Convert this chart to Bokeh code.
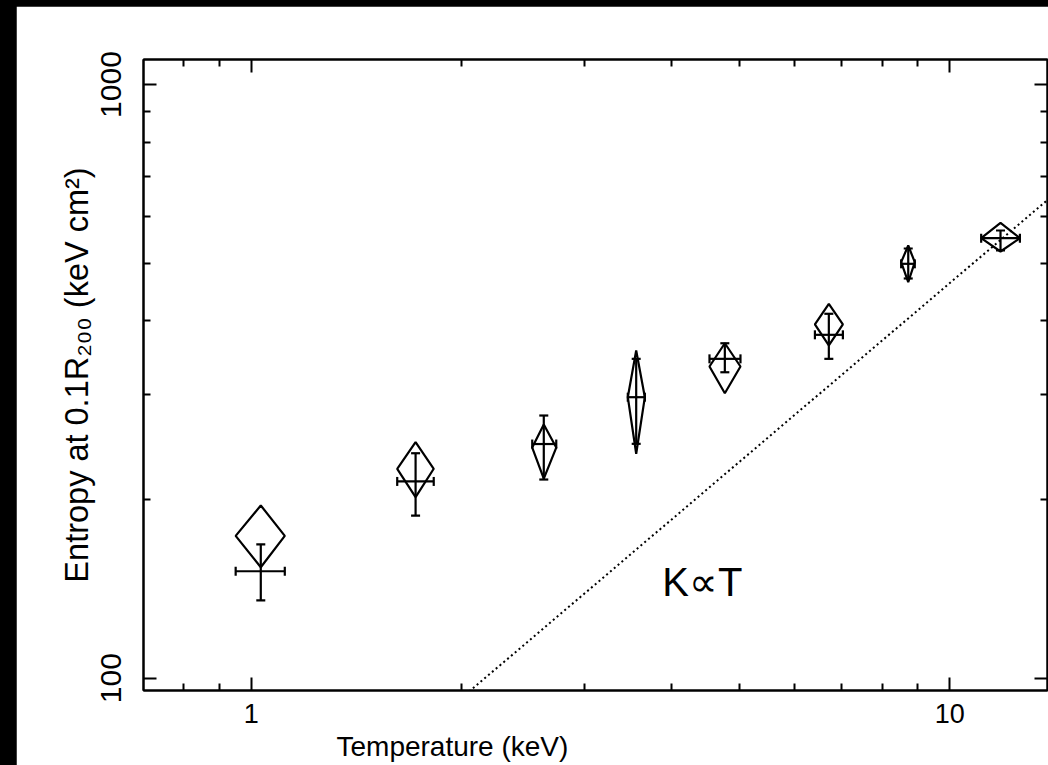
import math
from bokeh.plotting import figure
from bokeh.models import (FixedTicker, LogAxis, Label, Whisker, TeeHead, Title,
                          ColumnDataSource, NumeralTickFormatter)
from bokeh.embed import file_html
from bokeh.resources import INLINE

# ---- data ----
T    = [1.032, 1.719, 2.623, 3.557, 4.764, 6.712, 8.720, 11.82]
T_lo = [0.950, 1.618, 2.525, 3.460, 4.529, 6.411, 8.519, 11.09]
T_hi = [1.117, 1.825, 2.733, 3.660, 5.016, 7.030, 8.910, 12.60]
K    = [151.4, 214.5, 248.0, 297.4, 345.1, 378.8, 498.9, 551.0]
K_lo = [135.2, 187.9, 216.1, 248.2, 327.6, 345.1, 471.3, 525.4]
K_hi = [168.0, 239.3, 277.0, 345.1, 366.6, 411.0, 529.4, 567.7]
# diamonds (model values)
M    = [173.7, 225.3, 244.6, 297.4, 335.0, 394.3, 502.1, 551.0]
M_lo = [153.8, 201.8, 216.9, 238.8, 302.0, 363.5, 464.5, 523.3]
M_hi = [195.4, 249.8, 267.5, 356.4, 366.6, 427.2, 535.6, 584.8]
# K proportional to T reference line
line_T = [2.0, 15.0]
line_K = [92.6, 694.5]

x_major = [1, 10]
x_major_labels = ["1", "10"]
x_minor = [0.8, 0.9, 2, 3, 4, 5, 6, 7, 8, 9]
y_major = [100, 1000]
y_major_labels = ["100", "1000"]
y_minor = [200, 300, 400, 500, 600, 700, 800, 900]

x_title = "Temperature (keV)"
y_title = "Entropy at 0.1R\u2082\u2080\u2080 (keV cm\u00b2)"
note = "K\u221dT"

FONT = "Liberation Sans"

p = figure(width=1032, height=759, x_axis_type="log", y_axis_type="log",
           x_range=(0.7011, 13.80), y_range=(95.34, 1102),
           output_backend="svg", toolbar_location=None,
           min_border_left=127, min_border_right=1,
           min_border_top=53, min_border_bottom=75)
p.grid.visible = False
p.background_fill_color = "white"
p.border_fill_color = "white"
p.outline_line_color = "black"
p.outline_line_width = 2

def style_axis(ax):
    ax.axis_line_color = "black"
    ax.axis_line_width = 2
    ax.major_tick_line_color = "black"
    ax.major_tick_line_width = 2
    ax.minor_tick_line_color = "black"
    ax.minor_tick_line_width = 2
    ax.major_tick_in = 13
    ax.major_tick_out = 0
    ax.minor_tick_in = 7
    ax.minor_tick_out = 0
    ax.major_label_text_font = FONT
    ax.major_label_text_color = "black"

xt = FixedTicker(ticks=x_major, minor_ticks=x_minor)
yt = FixedTicker(ticks=y_major, minor_ticks=y_minor)

xa = p.xaxis[0]
xa.ticker = xt
xa.formatter = NumeralTickFormatter(format="0")
xa.major_label_overrides = {v: s for v, s in zip(x_major, x_major_labels)}
style_axis(xa)
xa.major_label_text_font_size = "27px"
xa.major_label_standoff = 13

ya = p.yaxis[0]
ya.ticker = yt
ya.formatter = NumeralTickFormatter(format="0")
ya.major_label_overrides = {v: s for v, s in zip(y_major, y_major_labels)}
style_axis(ya)
ya.major_label_text_font_size = "30px"
ya.major_label_orientation = "parallel"
ya.major_label_standoff = 22
ya.axis_label = y_title
ya.axis_label_text_font = FONT
ya.axis_label_text_font_size = "32.5px"
ya.axis_label_text_font_style = "normal"
ya.axis_label_text_color = "black"
ya.axis_label_standoff = 4

top = LogAxis(ticker=xt)
style_axis(top)
top.major_label_text_font_size = "0px"
top.major_label_text_color = None
top.major_label_standoff = 0
p.add_layout(top, "above")

right = LogAxis(ticker=yt)
style_axis(right)
right.major_label_text_font_size = "0px"
right.major_label_text_color = None
right.major_label_standoff = 0
p.add_layout(right, "right")

# x-axis title, placed left of centre as in the reference
p.add_layout(Title(text=x_title, text_font=FONT, text_font_size="28px",
                   text_font_style="normal", text_color="black",
                   text_line_height=0.8,
                   align="left", offset=193, standoff=6), "below")

src = ColumnDataSource(dict(T=T, T_lo=T_lo, T_hi=T_hi, K=K, K_lo=K_lo, K_hi=K_hi))

# diamonds
dxs = [[t, th, t, tl] for t, tl, th in zip(T, T_lo, T_hi)]
dys = [[mh, m, ml, m] for m, ml, mh in zip(M, M_lo, M_hi)]
p.patches(dxs, dys, fill_color=None, line_color="black", line_width=2.2)

# error bars
vw = Whisker(base="T", lower="K_lo", upper="K_hi", dimension="height", source=src,
             line_color="black", line_width=2.2,
             upper_head=TeeHead(size=9, line_width=2.2, line_color="black"),
             lower_head=TeeHead(size=9, line_width=2.2, line_color="black"))
hw = Whisker(base="K", lower="T_lo", upper="T_hi", dimension="width", source=src,
             line_color="black", line_width=2.2,
             upper_head=TeeHead(size=9, line_width=2.2, line_color="black"),
             lower_head=TeeHead(size=9, line_width=2.2, line_color="black"))
p.add_layout(vw)
p.add_layout(hw)

# K ~ T line
p.line(line_T, line_K, line_color="black", line_width=2, line_dash="2 3")

p.add_layout(Label(x=3.876, y=145.1, text=note, text_font=FONT,
                   text_font_size="40px", text_color="black",
                   text_align="left", text_baseline="alphabetic"))

html = file_html(p, INLINE)
style = ("<style>html,body{margin:0;padding:0;background:#000;}"
         "body{padding:6px 0 0 16px;box-sizing:border-box;}</style></head>")
html = html.replace("</head>", style, 1)
open("out.html", "w").write(html)
